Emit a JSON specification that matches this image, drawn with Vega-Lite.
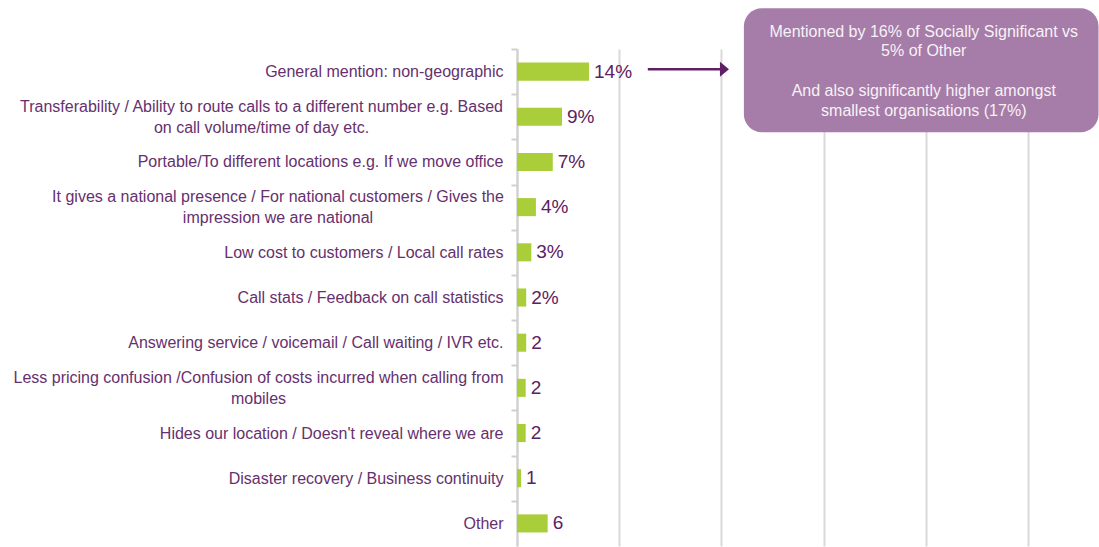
{
  "$schema": "https://vega.github.io/schema/vega-lite/v6.json",
  "width": 511,
  "height": 497,
  "autosize": {"type": "none"},
  "padding": {"left": 517, "top": 49, "right": 71, "bottom": 1},
  "background": "white",
  "config": {"view": {"stroke": null}, "font": "Liberation Sans"},
  "data": {
    "values": [
      {"category": "General mention: non-geographic", "value": 14.1, "label": "14%"},
      {"category": "Transferability / Ability to route calls to a different number e.g. Based\non call volume/time of day etc.", "value": 8.8, "label": "9%"},
      {"category": "Portable/To different locations e.g. If we move office", "value": 7.0, "label": "7%"},
      {"category": "It gives a national presence / For national customers / Gives the\nimpression we are national", "value": 3.7, "label": "4%"},
      {"category": "Low cost to customers / Local call rates", "value": 2.8, "label": "3%"},
      {"category": "Call stats / Feedback on call statistics", "value": 1.8, "label": "2%"},
      {"category": "Answering service / voicemail / Call waiting / IVR etc.", "value": 1.8, "label": "2"},
      {"category": "Less pricing confusion /Confusion of costs incurred when calling from\nmobiles", "value": 1.7, "label": "2"},
      {"category": "Hides our location / Doesn't reveal where we are", "value": 1.7, "label": "2"},
      {"category": "Disaster recovery / Business continuity", "value": 0.8, "label": "1"},
      {"category": "Other", "value": 6.0, "label": "6"}
    ]
  },
  "resolve": {"scale": {"y": "independent"}, "axis": {"y": "independent"}},
  "layer": [
    {
      "encoding": {
        "y": {
          "field": "category", "type": "nominal", "sort": null,
          "scale": {"paddingInner": 0.6, "paddingOuter": 0.3},
          "axis": {
            "title": null,
            "domainColor": "#D0D0D0", "domainWidth": 2,
            "tickColor": "#D0D0D0", "tickWidth": 2, "tickSize": 6, "tickOffset": -22.59,
            "labelColor": "#66306E", "labelFont": "Liberation Sans", "labelFontSize": 16,
            "labelLimit": 700, "labelLineHeight": 21,
            "labelExpr": "split(datum.label, '\\n')",
            "labelAlign": {"condition": {"test": "indexof(datum.value, '\\n') >= 0", "value": "center"}, "value": "right"},
            "labelPadding": {"condition": [
              {"test": "indexof(datum.value, 'Transferability') == 0", "value": 250},
              {"test": "indexof(datum.value, 'Less pricing') == 0", "value": 253},
              {"test": "indexof(datum.value, 'It gives') == 0", "value": 233.5}
            ], "value": 8},
            "labelOffset": {"condition": {"test": "indexof(datum.value, '\\n') >= 0", "value": 12.09}, "value": 22.59}
          }
        },
        "x": {
          "field": "value", "type": "quantitative",
          "scale": {"domain": [0, 100], "nice": false},
          "axis": {"title": null, "grid": true, "gridColor": "#D9D9D9", "gridWidth": 2, "labels": false, "ticks": false, "domain": false, "values": [0, 20, 40, 60, 80, 100]}
        }
      },
      "layer": [
        {"mark": {"type": "bar", "color": "#A9CE3A"}},
        {"mark": {"type": "text", "align": "left", "baseline": "middle", "dx": 5, "fontSize": 19, "font": "Liberation Sans", "color": "#5C2162"},
         "encoding": {"text": {"field": "label"}}}
      ]
    },
    {
      "data": {"values": [{"note": "annotation"}]},
      "layer": [
        {
          "mark": {"type": "rect", "cornerRadius": 18, "color": "#A67CA8"},
          "encoding": {
            "x": {"datum": 44.4, "type": "quantitative"},
            "x2": {"datum": 113.8},
            "y": {"datum": -0.9, "type": "quantitative", "scale": {"domain": [0, 11], "reverse": true, "nice": false, "zero": false}, "axis": null},
            "y2": {"datum": 1.84}
          }
        },
        {
          "mark": {"type": "text", "align": "center", "baseline": "middle", "fontSize": 16, "font": "Liberation Sans", "color": "#F7F2F7", "lineHeight": 19.8,
            "text": ["Mentioned by 16% of Socially Significant vs", "5% of Other"]},
          "encoding": {
            "x": {"datum": 79.6, "type": "quantitative"},
            "y": {"datum": -0.383, "type": "quantitative", "scale": {"domain": [0, 11], "reverse": true, "nice": false, "zero": false}, "axis": null}
          }
        },
        {
          "mark": {"type": "text", "align": "center", "baseline": "middle", "fontSize": 16, "font": "Liberation Sans", "color": "#F7F2F7", "lineHeight": 19.8,
            "text": ["And also significantly higher amongst", "smallest organisations (17%)"]},
          "encoding": {
            "x": {"datum": 79.6, "type": "quantitative"},
            "y": {"datum": 0.93, "type": "quantitative", "scale": {"domain": [0, 11], "reverse": true, "nice": false, "zero": false}, "axis": null}
          }
        },
        {
          "mark": {"type": "rule", "color": "#5E1F64", "strokeWidth": 2.5},
          "encoding": {
            "x": {"datum": 25.6, "type": "quantitative"},
            "x2": {"datum": 40.2},
            "y": {"datum": 0.45, "type": "quantitative", "scale": {"domain": [0, 11], "reverse": true, "nice": false, "zero": false}, "axis": null}
          }
        },
        {
          "mark": {"type": "point", "shape": "M-0.6,-1L0.6,0L-0.6,1Z", "size": 225, "filled": true, "color": "#5E1F64", "opacity": 1},
          "encoding": {
            "x": {"datum": 40.6, "type": "quantitative"},
            "y": {"datum": 0.45, "type": "quantitative", "scale": {"domain": [0, 11], "reverse": true, "nice": false, "zero": false}, "axis": null}
          }
        }
      ]
    }
  ]
}
